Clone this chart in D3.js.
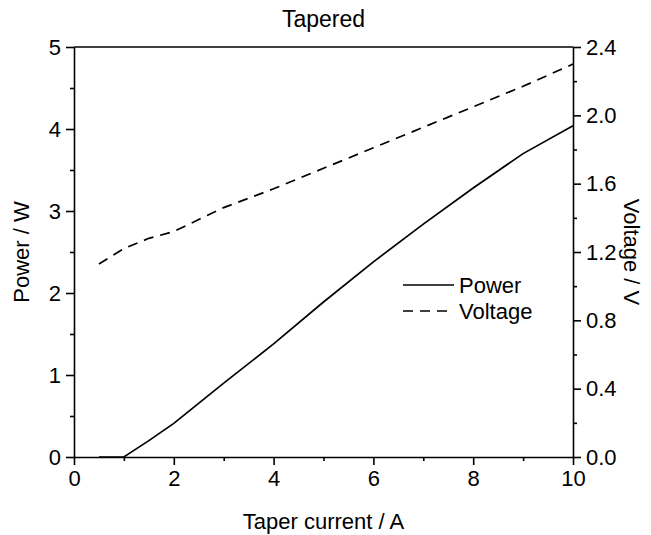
<!DOCTYPE html>
<html><head><meta charset="utf-8">
<script src="https://cdn.jsdelivr.net/npm/d3@7"></script>
<style>body{margin:0;background:#fff}text{font-family:"Liberation Sans",Arial,sans-serif;fill:#000}</style>
</head><body><svg id="c" width="651" height="535"></svg>
<script>
const current = [0.5, 1, 1.5, 2, 3, 4, 5, 6, 7, 8, 9, 10];
const power   = [0, 0, 0.2, 0.41, 0.9, 1.38, 1.89, 2.38, 2.84, 3.28, 3.70, 4.04];
const voltage = [1.13, 1.22, 1.28, 1.32, 1.46, 1.57, 1.69, 1.81, 1.93, 2.05, 2.17, 2.30];
const xTicks = [0, 2, 4, 6, 8, 10];
const yTicks = [0, 1, 2, 3, 4, 5];
const y2Ticks = [0, 0.4, 0.8, 1.2, 1.6, 2.0, 2.4];

const svg = d3.select("#c");
const m = {l:74, r:78, t:47, b:78};
const W = 651, H = 535;
const x = d3.scaleLinear().domain([0,10]).range([m.l, W-m.r]);
const y = d3.scaleLinear().domain([0,5]).range([H-m.b, m.t]);
const y2 = d3.scaleLinear().domain([0,2.4]).range([H-m.b, m.t]);

const fs = "22px";
svg.append("g").attr("transform",`translate(0,${H-m.b})`)
  .call(d3.axisBottom(x).tickValues(d3.range(1,10,2)).tickSize(4).tickFormat("")).call(g=>g.select(".domain").remove());
svg.append("g").attr("transform",`translate(${m.l},0)`)
  .call(d3.axisLeft(y).tickValues(d3.range(0.5,5,1)).tickSize(4).tickFormat("")).call(g=>g.select(".domain").remove());
svg.append("g").attr("transform",`translate(${W-m.r},0)`)
  .call(d3.axisRight(y2).tickValues([0.2,0.6,1.0,1.4,1.8,2.2]).tickSize(4).tickFormat("")).call(g=>g.select(".domain").remove());

const gx = svg.append("g").attr("transform",`translate(0,${H-m.b})`)
  .call(d3.axisBottom(x).tickValues(xTicks).tickSize(8).tickSizeOuter(0).tickPadding(5).tickFormat(d3.format("d")));
const gy = svg.append("g").attr("transform",`translate(${m.l},0)`)
  .call(d3.axisLeft(y).tickValues(yTicks).tickSize(8).tickSizeOuter(0).tickPadding(5).tickFormat(d3.format("d")));
const gy2 = svg.append("g").attr("transform",`translate(${W-m.r},0)`)
  .call(d3.axisRight(y2).tickValues(y2Ticks).tickSize(8).tickSizeOuter(0).tickPadding(5).tickFormat(d3.format(".1f")));
[gx,gy,gy2].forEach(g=>{
  g.selectAll("text").style("font-size",fs).style("font-family","Liberation Sans, Arial, sans-serif");
  g.selectAll("line,path").attr("stroke","#000").attr("stroke-width",1.6);
});
svg.append("line").attr("x1",m.l).attr("x2",W-m.r).attr("y1",m.t).attr("y2",m.t).attr("stroke","#000").attr("stroke-width",1.6);
svg.selectAll("g line").attr("stroke","#000").attr("stroke-width",1.6);

const lp = d3.line().x((d,i)=>x(current[i])).y(d=>y(d));
const lv = d3.line().x((d,i)=>x(current[i])).y(d=>y2(d));
svg.append("path").datum(power).attr("d",lp).attr("fill","none").attr("stroke","#000").attr("stroke-width",1.7);
svg.append("path").datum(voltage).attr("d",lv).attr("fill","none").attr("stroke","#000").attr("stroke-width",1.7).attr("stroke-dasharray","10,7");

const leg = [{n:"Power",dash:null},{n:"Voltage",dash:"10,7"}];
leg.forEach((d,i)=>{
  const yy = 285 + i*26;
  svg.append("line").attr("x1",403).attr("x2",454).attr("y1",yy).attr("y2",yy).attr("stroke","#000").attr("stroke-width",1.7).attr("stroke-dasharray",d.dash);
  svg.append("text").attr("x",459).attr("y",yy+8).style("font-size",fs).text(d.n);
});

svg.append("text").attr("x",(m.l+W-m.r)/2).attr("y",27).attr("text-anchor","middle").style("font-size","23px").text("Tapered");
svg.append("text").attr("x",(m.l+W-m.r)/2).attr("y",529).attr("text-anchor","middle").style("font-size",fs).text("Taper current / A");
svg.append("text").attr("transform",`translate(29,${(m.t+H-m.b)/2}) rotate(-90)`).attr("text-anchor","middle").style("font-size",fs).text("Power / W");
svg.append("text").attr("transform",`translate(624,${(m.t+H-m.b)/2}) rotate(90)`).attr("text-anchor","middle").style("font-size",fs).text("Voltage / V");
</script></body></html>
